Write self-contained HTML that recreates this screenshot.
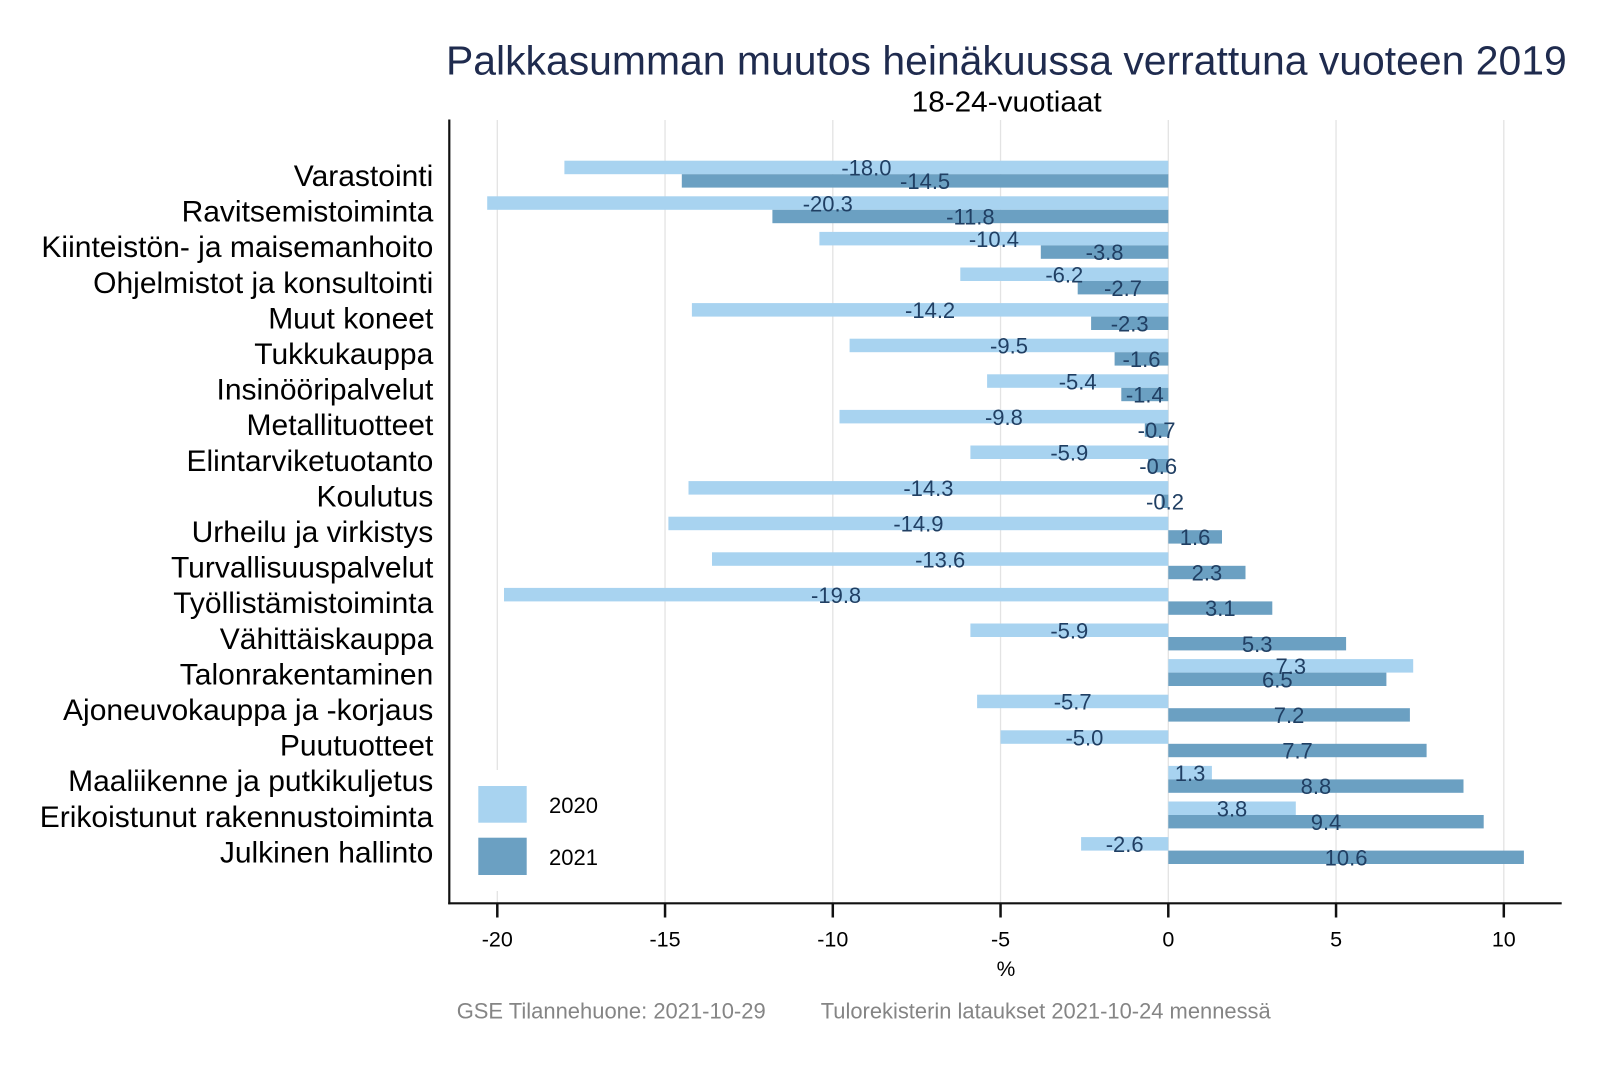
<!DOCTYPE html>
<html>
<head>
<meta charset="utf-8">
<style>
html,body{margin:0;padding:0;background:#fff;}
svg{display:block;font-family:"Liberation Sans",Arial,sans-serif;}
.cat{font-size:30px;fill:#000;text-anchor:end;}
.val{font-size:22px;fill:#203f63;text-anchor:middle;}
.tick{font-size:21.5px;fill:#000;text-anchor:middle;}
.l{fill:#a8d3f0;}
.d{fill:#6ba0c2;}
.g{stroke:#e3e3e3;stroke-width:1.3;}
</style>
</head>
<body>
<svg width="1600" height="1067" viewBox="0 0 1600 1067" xmlns="http://www.w3.org/2000/svg">
<rect x="0" y="0" width="1600" height="1067" fill="#fff"/>

<!-- Title -->
<text x="446" y="74.3" font-size="41" fill="#1f2b4e" textLength="1120.7" lengthAdjust="spacingAndGlyphs">Palkkasumman muutos heinäkuussa verrattuna vuoteen 2019</text>
<text x="911.7" y="111.7" font-size="28.5" fill="#000" textLength="190" lengthAdjust="spacingAndGlyphs">18-24-vuotiaat</text>

<!-- Gridlines -->
<line class="g" x1="497.3" y1="120" x2="497.3" y2="903"/>
<line class="g" x1="665.05" y1="120" x2="665.05" y2="903"/>
<line class="g" x1="832.8" y1="120" x2="832.8" y2="903"/>
<line class="g" x1="1000.55" y1="120" x2="1000.55" y2="903"/>
<line class="g" x1="1168.3" y1="120" x2="1168.3" y2="903"/>
<line class="g" x1="1336.05" y1="120" x2="1336.05" y2="903"/>
<line class="g" x1="1503.8" y1="120" x2="1503.8" y2="903"/>

<!-- Bars -->
<g>
<rect class="l" x="564.4" y="160.7" width="603.9" height="13.5"/>
<rect class="d" x="681.8" y="174.2" width="486.5" height="13.4"/>
<rect class="l" x="487.2" y="196.3" width="681.1" height="13.5"/>
<rect class="d" x="772.4" y="209.8" width="395.9" height="13.4"/>
<rect class="l" x="819.4" y="231.9" width="348.9" height="13.5"/>
<rect class="d" x="1040.8" y="245.4" width="127.5" height="13.4"/>
<rect class="l" x="960.3" y="267.5" width="208.0" height="13.5"/>
<rect class="d" x="1077.7" y="281.0" width="90.6" height="13.4"/>
<rect class="l" x="691.9" y="303.1" width="476.4" height="13.5"/>
<rect class="d" x="1091.1" y="316.6" width="77.2" height="13.4"/>
<rect class="l" x="849.6" y="338.7" width="318.7" height="13.5"/>
<rect class="d" x="1114.6" y="352.2" width="53.7" height="13.4"/>
<rect class="l" x="987.1" y="374.3" width="181.2" height="13.5"/>
<rect class="d" x="1121.3" y="387.8" width="47.0" height="13.4"/>
<rect class="l" x="839.5" y="409.9" width="328.8" height="13.5"/>
<rect class="d" x="1144.8" y="423.4" width="23.5" height="13.4"/>
<rect class="l" x="970.4" y="445.5" width="197.9" height="13.5"/>
<rect class="d" x="1148.2" y="459.0" width="20.1" height="13.4"/>
<rect class="l" x="688.5" y="481.1" width="479.8" height="13.5"/>
<rect class="d" x="1161.6" y="494.6" width="6.7" height="13.4"/>
<rect class="l" x="668.4" y="516.7" width="499.9" height="13.5"/>
<rect class="d" x="1168.3" y="530.2" width="53.7" height="13.4"/>
<rect class="l" x="712.0" y="552.3" width="456.3" height="13.5"/>
<rect class="d" x="1168.3" y="565.8" width="77.2" height="13.4"/>
<rect class="l" x="504.0" y="587.9" width="664.3" height="13.5"/>
<rect class="d" x="1168.3" y="601.4" width="104.0" height="13.4"/>
<rect class="l" x="970.4" y="623.5" width="197.9" height="13.5"/>
<rect class="d" x="1168.3" y="637.0" width="177.8" height="13.4"/>
<rect class="l" x="1168.3" y="659.1" width="244.9" height="13.5"/>
<rect class="d" x="1168.3" y="672.6" width="218.1" height="13.4"/>
<rect class="l" x="977.1" y="694.7" width="191.2" height="13.5"/>
<rect class="d" x="1168.3" y="708.2" width="241.6" height="13.4"/>
<rect class="l" x="1000.55" y="730.3" width="167.75" height="13.5"/>
<rect class="d" x="1168.3" y="743.8" width="258.3" height="13.4"/>
<rect class="l" x="1168.3" y="765.9" width="43.6" height="13.5"/>
<rect class="d" x="1168.3" y="779.4" width="295.2" height="13.4"/>
<rect class="l" x="1168.3" y="801.5" width="127.5" height="13.5"/>
<rect class="d" x="1168.3" y="815.0" width="315.4" height="13.4"/>
<rect class="l" x="1081.1" y="837.1" width="87.2" height="13.5"/>
<rect class="d" x="1168.3" y="850.6" width="355.6" height="13.4"/>
</g>

<!-- Value labels -->
<g class="vals">
<text class="val" x="866.4" y="175.7">-18.0</text>
<text class="val" x="925.1" y="189.0">-14.5</text>
<text class="val" x="827.8" y="211.3">-20.3</text>
<text class="val" x="970.4" y="224.6">-11.8</text>
<text class="val" x="993.9" y="246.9">-10.4</text>
<text class="val" x="1104.6" y="260.2">-3.8</text>
<text class="val" x="1064.3" y="282.5">-6.2</text>
<text class="val" x="1123.0" y="295.8">-2.7</text>
<text class="val" x="930.1" y="318.1">-14.2</text>
<text class="val" x="1129.7" y="331.4">-2.3</text>
<text class="val" x="1009.0" y="353.7">-9.5</text>
<text class="val" x="1141.5" y="367.0">-1.6</text>
<text class="val" x="1077.7" y="389.3">-5.4</text>
<text class="val" x="1144.8" y="402.6">-1.4</text>
<text class="val" x="1003.9" y="424.9">-9.8</text>
<text class="val" x="1156.6" y="438.2">-0.7</text>
<text class="val" x="1069.3" y="460.5">-5.9</text>
<text class="val" x="1158.2" y="473.8">-0.6</text>
<text class="val" x="928.4" y="496.1">-14.3</text>
<text class="val" x="1165.0" y="509.4">-0.2</text>
<text class="val" x="918.4" y="531.7">-14.9</text>
<text class="val" x="1195.1" y="545.0">1.6</text>
<text class="val" x="940.2" y="567.3">-13.6</text>
<text class="val" x="1206.9" y="580.6">2.3</text>
<text class="val" x="836.1" y="602.9">-19.8</text>
<text class="val" x="1220.3" y="616.2">3.1</text>
<text class="val" x="1069.3" y="638.5">-5.9</text>
<text class="val" x="1257.2" y="651.8">5.3</text>
<text class="val" x="1290.8" y="674.1">7.3</text>
<text class="val" x="1277.3" y="687.4">6.5</text>
<text class="val" x="1072.7" y="709.7">-5.7</text>
<text class="val" x="1289.1" y="723.0">7.2</text>
<text class="val" x="1084.4" y="745.3">-5.0</text>
<text class="val" x="1297.5" y="758.6">7.7</text>
<text class="val" x="1190.1" y="780.9">1.3</text>
<text class="val" x="1315.9" y="794.2">8.8</text>
<text class="val" x="1232.0" y="816.5">3.8</text>
<text class="val" x="1326.0" y="829.8">9.4</text>
<text class="val" x="1124.7" y="852.1">-2.6</text>
<text class="val" x="1346.1" y="865.4">10.6</text>
</g>

<!-- Category labels -->
<g>
<text class="cat" x="433.3" y="186">Varastointi</text>
<text class="cat" x="433.3" y="221.6">Ravitsemistoiminta</text>
<text class="cat" x="433.3" y="257.2">Kiinteistön- ja maisemanhoito</text>
<text class="cat" x="433.3" y="292.8">Ohjelmistot ja konsultointi</text>
<text class="cat" x="433.3" y="328.4">Muut koneet</text>
<text class="cat" x="433.3" y="364">Tukkukauppa</text>
<text class="cat" x="433.3" y="399.6">Insinööripalvelut</text>
<text class="cat" x="433.3" y="435.2">Metallituotteet</text>
<text class="cat" x="433.3" y="470.8">Elintarviketuotanto</text>
<text class="cat" x="433.3" y="506.4">Koulutus</text>
<text class="cat" x="433.3" y="542">Urheilu ja virkistys</text>
<text class="cat" x="433.3" y="577.6">Turvallisuuspalvelut</text>
<text class="cat" x="433.3" y="613.2">Työllistämistoiminta</text>
<text class="cat" x="433.3" y="648.8">Vähittäiskauppa</text>
<text class="cat" x="433.3" y="684.4">Talonrakentaminen</text>
<text class="cat" x="433.3" y="720">Ajoneuvokauppa ja -korjaus</text>
<text class="cat" x="433.3" y="755.6">Puutuotteet</text>
<text class="cat" x="433.3" y="791.2">Maaliikenne ja putkikuljetus</text>
<text class="cat" x="433.3" y="826.8">Erikoistunut rakennustoiminta</text>
<text class="cat" x="433.3" y="862.4">Julkinen hallinto</text>
</g>

<!-- Legend -->
<rect x="458" y="770" width="160" height="121" fill="#fff"/>
<rect class="l" x="478.3" y="786" width="48.4" height="36.7"/>
<rect class="d" x="478.3" y="837.7" width="48.4" height="37.3"/>
<text x="549" y="813" font-size="22" fill="#000">2020</text>
<text x="549" y="865" font-size="22" fill="#000">2021</text>

<!-- Axes -->
<line x1="449.3" y1="119.5" x2="449.3" y2="904.3" stroke="#111" stroke-width="2.2"/>
<line x1="448.2" y1="903.3" x2="1561.7" y2="903.3" stroke="#111" stroke-width="2.2"/>
<g stroke="#111" stroke-width="2.5">
<line x1="497.3" y1="903" x2="497.3" y2="917.5"/>
<line x1="665.05" y1="903" x2="665.05" y2="917.5"/>
<line x1="832.8" y1="903" x2="832.8" y2="917.5"/>
<line x1="1000.55" y1="903" x2="1000.55" y2="917.5"/>
<line x1="1168.3" y1="903" x2="1168.3" y2="917.5"/>
<line x1="1336.05" y1="903" x2="1336.05" y2="917.5"/>
<line x1="1503.8" y1="903" x2="1503.8" y2="917.5"/>
</g>
<text class="tick" x="497.3" y="946.5">-20</text>
<text class="tick" x="665.05" y="946.5">-15</text>
<text class="tick" x="832.8" y="946.5">-10</text>
<text class="tick" x="1000.55" y="946.5">-5</text>
<text class="tick" x="1168.3" y="946.5">0</text>
<text class="tick" x="1336.05" y="946.5">5</text>
<text class="tick" x="1503.8" y="946.5">10</text>

<text x="1006" y="976" font-size="21" fill="#000" text-anchor="middle">%</text>

<!-- Footer -->
<text x="456.7" y="1018.5" font-size="22" fill="#858585" textLength="309" lengthAdjust="spacingAndGlyphs">GSE Tilannehuone: 2021-10-29</text>
<text x="820.7" y="1018.5" font-size="22" fill="#858585" textLength="450" lengthAdjust="spacingAndGlyphs">Tulorekisterin lataukset 2021-10-24 mennessä</text>
</svg>
</body>
</html>
